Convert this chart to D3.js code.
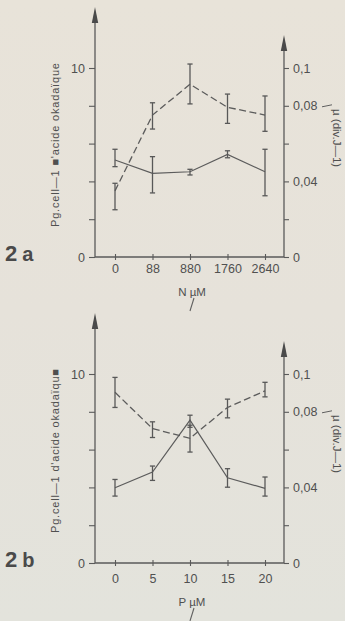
<!DOCTYPE html>
<html>
<head>
<meta charset="utf-8">
<script src="https://cdn.jsdelivr.net/npm/d3@7"></script>
<style>
  html, body { margin: 0; padding: 0; }
  body { width: 345px; height: 621px; overflow: hidden; }
  svg { display: block; }
  text { font-family: "Liberation Sans", Arial, sans-serif; fill: #505050; }
</style>
</head>
<body>
<div id="chart"></div>
<script>
// categories
var nLabels = ['0', '88', '880', '1760', '2640'];
var pLabels = ['0', '5', '10', '15', '20'];

// fig 2a - toxin (dashed, left axis) and growth rate (solid, right axis)
var toxinN   = [3.5, 7.51, 9.14, 7.92, 7.51];
var toxinNLo = [2.5, 6.77, 8.10, 7.07, 6.65];
var toxinNHi = [3.9, 8.16, 10.21, 8.62, 8.52];
var muN   = [0.0513, 0.0443, 0.0451, 0.0543, 0.0451];
var muNLo = [0.0478, 0.0339, 0.0434, 0.0525, 0.0324];
var muNHi = [0.0570, 0.0531, 0.0464, 0.0562, 0.0570];

// fig 2b
var toxinP   = [9.03, 7.11, 6.60, 8.23, 9.11];
var toxinPLo = [8.23, 6.64, 5.87, 7.68, 8.79];
var toxinPHi = [9.82, 7.47, 7.29, 8.67, 9.56];
var muP   = [0.0398, 0.0481, 0.0756, 0.0451, 0.0395];
var muPLo = [0.0354, 0.0437, 0.0718, 0.0401, 0.0354];
var muPHi = [0.0442, 0.0513, 0.0782, 0.0499, 0.0455];

// axis ticks
var leftTicks = [0, 2, 4, 6, 8, 10];
var leftTickLabels = ['0', '', '', '', '', '10'];
var rightTicks = [0, 0.02, 0.04, 0.06, 0.08, 0.1];
var rightTickLabels = ['0', '', '0,04', '', '0,08', '0,1'];

var W = 345, H = 621;
var ink = '#5a5a5a';

var svg = d3.select('#chart').append('svg')
    .attr('width', W)
    .attr('height', H);

var grad = svg.append('defs').append('linearGradient')
    .attr('id', 'paper')
    .attr('x1', 0).attr('y1', 0).attr('x2', 0).attr('y2', 1);
grad.append('stop').attr('offset', '0%').attr('stop-color', '#e8e3d9');
grad.append('stop').attr('offset', '50%').attr('stop-color', '#e6e2da');
grad.append('stop').attr('offset', '100%').attr('stop-color', '#e3e3dc');

svg.append('rect')
    .attr('width', W).attr('height', H)
    .attr('fill', 'url(#paper)');

var panels = [
  { y0: 257, labels: nLabels, num: '2', letter: 'a', xName: 'N', labelDy: 12,
    leftTitle: "Pg.cell\u20141 \u25A0'acide okada\u00efque",
    toxin: toxinN, toxinLo: toxinNLo, toxinHi: toxinNHi,
    mu: muN, muLo: muNLo, muHi: muNHi },
  { y0: 563, labels: pLabels, num: '2', letter: 'b', xName: 'P', labelDy: 16,
    leftTitle: "Pg.cell\u20141 d'acide okada\u00efqu\u25A0",
    toxin: toxinP, toxinLo: toxinPLo, toxinHi: toxinPHi,
    mu: muP, muLo: muPLo, muHi: muPHi }
];

panels.forEach(draw_panel);

function draw_panel(p) {

  var xLeft = 95, xRight = 284;

  var x = d3.scalePoint().domain(p.labels).range([115, 265]);
  var yL = d3.scaleLinear().domain([0, 10]).range([p.y0, p.y0 - 189]);
  var yR = d3.scaleLinear().domain([0, 0.1]).range([p.y0, p.y0 - 189]);

  var g = svg.append('g');

  // left axis
  var leftAxis = d3.axisLeft(yL)
      .tickValues(leftTicks)
      .tickSize(6)
      .tickPadding(4)
      .tickFormat(function(d, i) { return leftTickLabels[i]; });

  var gl = g.append('g')
      .attr('transform', 'translate(' + xLeft + ',0)')
      .call(leftAxis);
  gl.select('.domain').remove();
  gl.selectAll('.tick line').attr('stroke', ink).attr('stroke-width', 1.1);
  gl.selectAll('.tick text')
      .style('font-size', '12.5px')
      .attr('fill', '#505050');

  // right axis
  var rightAxis = d3.axisRight(yR)
      .tickValues(rightTicks)
      .tickSize(5)
      .tickPadding(4)
      .tickFormat(function(d, i) { return rightTickLabels[i]; });

  var gr = g.append('g')
      .attr('transform', 'translate(' + xRight + ',0)')
      .call(rightAxis);
  gr.select('.domain').remove();
  gr.selectAll('.tick line').attr('stroke', ink).attr('stroke-width', 1.1);
  gr.selectAll('.tick text')
      .style('font-size', '12.5px')
      .attr('fill', '#505050');

  // bottom axis, ticks crossing the line
  var bottomAxis = d3.axisBottom(x)
      .tickSize(3)
      .tickPadding(p.labelDy - 8);

  var gb = g.append('g')
      .attr('transform', 'translate(0,' + p.y0 + ')')
      .call(bottomAxis);
  gb.select('.domain').remove();
  gb.selectAll('.tick line')
      .attr('y1', -3).attr('y2', 3)
      .attr('stroke', ink).attr('stroke-width', 1.1);
  gb.selectAll('.tick text')
      .style('font-size', '12.5px')
      .attr('fill', '#505050');

  // axis lines with arrows
  var leftTop = yL(10) - 61;
  var rightTop = yR(0.1) - 33;

  g.append('line')
      .attr('x1', xLeft).attr('x2', xRight)
      .attr('y1', p.y0).attr('y2', p.y0)
      .attr('stroke', ink).attr('stroke-width', 1.3);
  g.append('line')
      .attr('x1', xLeft).attr('x2', xLeft)
      .attr('y1', p.y0).attr('y2', leftTop + 8)
      .attr('stroke', ink).attr('stroke-width', 1.3);
  g.append('line')
      .attr('x1', xRight).attr('x2', xRight)
      .attr('y1', p.y0).attr('y2', rightTop + 8)
      .attr('stroke', ink).attr('stroke-width', 1.3);

  [[xLeft, leftTop], [xRight, rightTop]].forEach(function(a) {
    g.append('path')
        .attr('d', 'M' + a[0] + ',' + a[1] +
                   'L' + (a[0] + 3.2) + ',' + (a[1] + 16) +
                   'L' + (a[0] - 3.2) + ',' + (a[1] + 16) + 'Z')
        .attr('fill', '#4a4a4a');
  });

  // series
  var toxinLine = d3.line()
      .x(function(d, i) { return x(p.labels[i]); })
      .y(function(d) { return yL(d); });
  var muLine = d3.line()
      .x(function(d, i) { return x(p.labels[i]); })
      .y(function(d) { return yR(d); });

  g.append('path')
      .datum(p.toxin)
      .attr('d', toxinLine)
      .attr('fill', 'none')
      .attr('stroke', '#5c5c5c')
      .attr('stroke-width', 1.3)
      .attr('stroke-dasharray', '7,3.5');

  g.append('path')
      .datum(p.mu)
      .attr('d', muLine)
      .attr('fill', 'none')
      .attr('stroke', '#5c5c5c')
      .attr('stroke-width', 1.2);

  draw_errors(g, x, p.labels, p.toxinLo, p.toxinHi, yL);
  draw_errors(g, x, p.labels, p.muLo, p.muHi, yR);

  // axis titles
  g.append('text')
      .attr('transform', 'translate(59,' + (p.y0 - 112) + ') rotate(-90)')
      .attr('text-anchor', 'middle')
      .attr('textLength', 164)
      .attr('lengthAdjust', 'spacing')
      .style('font-size', '11px')
      .text(p.leftTitle);

  g.append('text')
      .attr('transform', 'translate(333,' + (p.y0 - 148) + ') rotate(90)')
      .attr('text-anchor', 'start')
      .style('font-size', '11.5px')
      .text('\u00b5  (div.J\u20141)');

  // little hand drawn stroke from the 0,08 label to mu
  g.append('path')
      .attr('d', 'M322,' + (yR(0.08) + 1) + ' L332,' + (yR(0.08) - 1))
      .attr('stroke', '#606060')
      .attr('stroke-width', 1);

  g.append('text')
      .attr('x', 192)
      .attr('y', p.y0 + p.labelDy + 27)
      .attr('text-anchor', 'middle')
      .style('font-size', '11.5px')
      .text(p.xName + ' \u00b5M');

  g.append('path')
      .attr('d', 'M' + 194 + ',' + (p.y0 + p.labelDy + 29) +
                 ' L' + 190 + ',' + (p.y0 + p.labelDy + 42))
      .attr('stroke', '#606060')
      .attr('stroke-width', 1.1);

  // panel label
  var lab = g.append('text')
      .attr('x', 5)
      .attr('y', p.y0 + 4)
      .style('font-weight', 'bold')
      .attr('fill', '#4a4a4a');
  lab.append('tspan').style('font-size', '22px').attr('fill', '#4a4a4a').text(p.num);
  lab.append('tspan').attr('dx', 5).style('font-size', '20px').attr('fill', '#4a4a4a').text(p.letter);
}

function draw_errors(g, x, labels, lo, hi, y) {
  var cap = 2.6;
  var bars = g.append('g')
      .selectAll('g')
      .data(labels)
      .enter()
      .append('g')
      .attr('stroke', '#585858')
      .attr('stroke-width', 1.3);

  bars.append('line')
      .attr('x1', function(d) { return x(d); })
      .attr('x2', function(d) { return x(d); })
      .attr('y1', function(d, i) { return y(lo[i]); })
      .attr('y2', function(d, i) { return y(hi[i]); });
  bars.append('line')
      .attr('x1', function(d) { return x(d) - cap; })
      .attr('x2', function(d) { return x(d) + cap; })
      .attr('y1', function(d, i) { return y(lo[i]); })
      .attr('y2', function(d, i) { return y(lo[i]); });
  bars.append('line')
      .attr('x1', function(d) { return x(d) - cap; })
      .attr('x2', function(d) { return x(d) + cap; })
      .attr('y1', function(d, i) { return y(hi[i]); })
      .attr('y2', function(d, i) { return y(hi[i]); });
}
</script>
</body>
</html>
